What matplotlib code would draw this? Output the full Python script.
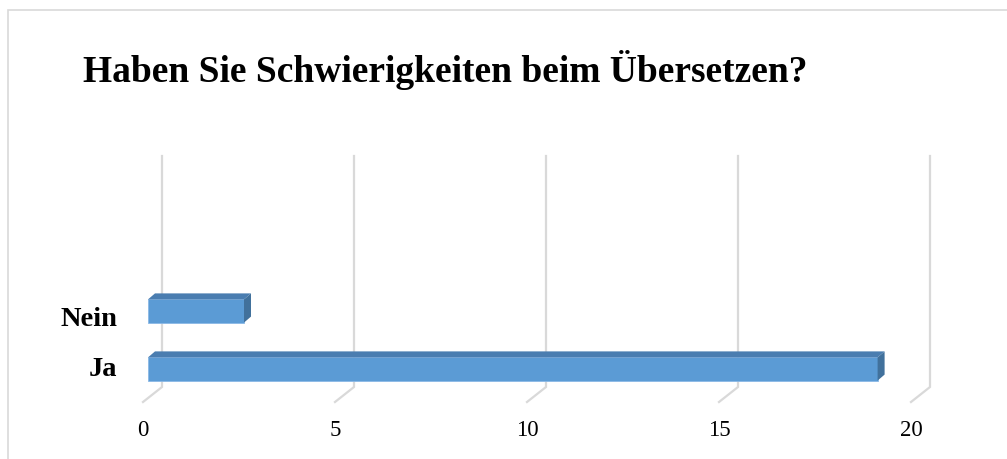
import matplotlib
matplotlib.use("Agg")
import matplotlib.pyplot as plt
import matplotlib.transforms as mtransforms
from matplotlib.patches import Polygon, Rectangle

categories = ["Ja", "Nein"]
values = [19, 2.5]
xticks = [0, 5, 10, 15, 20]
title = "Haben Sie Schwierigkeiten beim Übersetzen?"

front_col = "#5B9BD5"
top_col = "#4A7DB0"
side_col = "#41719C"
grid_col = "#D9D9D9"

W, H = 1007, 460
fig = plt.figure(figsize=(W / 100, H / 100), dpi=100)
plt.rcParams["font.family"] = "Liberation Serif"

# axes placed in pixels (front plane of the bars)
left, right, bottom, top = 148, 916, 398, 157
ax = fig.add_axes([left / W, 1 - bottom / H, (right - left) / W, (bottom - top) / H])
ax.set_xlim(0, 20)
ylo = -0.483
yhi = 1 + (312 - 157) / 58
ax.set_ylim(ylo, yhi)
for s in ax.spines.values():
    s.set_visible(False)

# pixel -> data helpers
ux = 20 / (right - left)
uy = (yhi - ylo) / (bottom - top)

# gridlines with 3d floor corner
for v in xticks:
    xb = v + 14 * ux
    xf = v - 5 * ux
    y_floor = ylo + 10 * uy
    y_front = ylo - 5 * uy
    ax.plot([xb, xb, xf], [yhi, y_floor, y_front], color=grid_col, lw=1.6,
            clip_on=False, zorder=1, solid_joinstyle="miter")

# bars: front face through barh, top and side faces as polygons
bh = 0.4
dx, dy = 7 * ux, 6 * uy
bars = ax.barh(range(len(categories)), values, height=bh, color=front_col,
               edgecolor="#8AB8E6", linewidth=0.6, zorder=3)
for b in bars:
    x0, y0 = b.get_x(), b.get_y()
    x1, y1 = x0 + b.get_width(), y0 + b.get_height()
    topf = Polygon([(x0, y1), (x1, y1), (x1 + dx, y1 + dy), (x0 + dx, y1 + dy)],
                   closed=True, facecolor=top_col, edgecolor="none", zorder=3, clip_on=False)
    side = Polygon([(x1, y0), (x1, y1), (x1 + dx, y1 + dy), (x1 + dx, y0 + dy)],
                   closed=True, facecolor=side_col, edgecolor="none", zorder=3, clip_on=False)
    ax.add_patch(topf)
    ax.add_patch(side)

ax.set_yticks(range(len(categories)))
ax.set_yticklabels(categories, fontsize=20.5, fontweight="bold")
ax.set_xticks(xticks)
ax.set_xticklabels([str(v) for v in xticks], fontsize=16.5)
ax.tick_params(axis="y", length=0, pad=22)
ax.tick_params(axis="x", length=0, pad=16)
off_x = mtransforms.ScaledTranslation(-5 / 100, 0, fig.dpi_scale_trans)
for lab in ax.get_xticklabels():
    lab.set_transform(lab.get_transform() + off_x)
for lab, shift in zip(ax.get_yticklabels(), [3, -5]):
    off_y = mtransforms.ScaledTranslation(0, shift / 100, fig.dpi_scale_trans)
    lab.set_transform(lab.get_transform() + off_y)

fig.text(83 / W, 1 - 82 / H, title, fontsize=27, fontweight="bold", va="baseline", ha="left")

# chart border
fig.patches.append(Rectangle((8 / W, -0.1), 1.1, 1 - 11 / H + 0.1, transform=fig.transFigure,
                             fill=False, edgecolor=grid_col, lw=1.2))

fig.savefig("out.png", dpi=100)
